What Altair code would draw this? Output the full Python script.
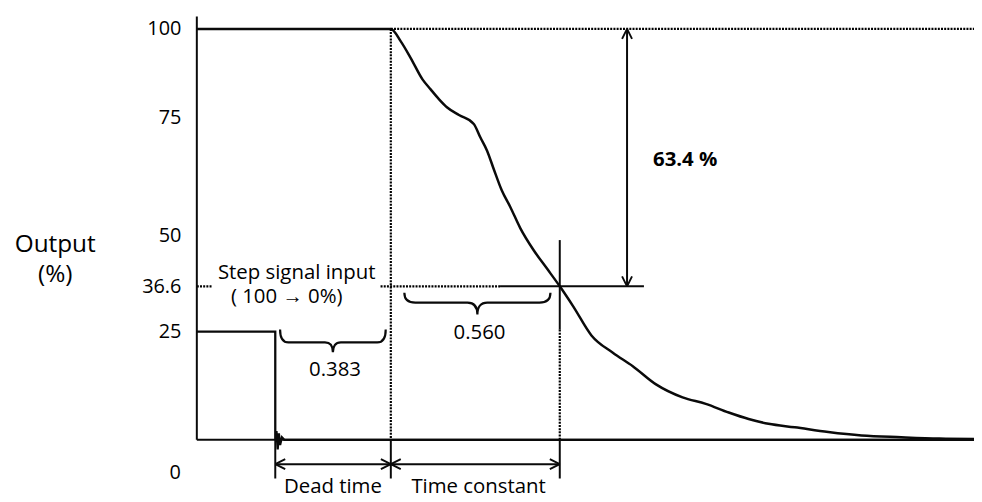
import altair as alt
import pandas as pd

# ---------------- data ----------------
T_MIN, T_MAX = -0.26, 2.316          # time axis extent (s), step at t = 0
DEAD_TIME = 0.383
TIME_CONSTANT = 0.560
TC_END = DEAD_TIME + TIME_CONSTANT   # 0.943
LEVEL_START = 100
LEVEL_TC = 36.6
STEP_LEVEL = 25

# output response (%), vs time (s)
out_t = [-0.26, 0.383, 0.416, 0.449, 0.488, 0.515, 0.543, 0.570, 0.609, 0.658,
         0.680, 0.702, 0.724, 0.751, 0.779, 0.812, 0.856, 0.900, 0.943, 0.988,
         1.048, 1.119, 1.185, 1.262, 1.350, 1.427, 1.503, 1.569, 1.635, 1.722,
         1.833, 1.943, 2.075, 2.201, 2.316]
out_v = [100, 100, 96.5, 91.8, 85.8, 83.0, 80.2, 77.9, 75.8, 73.7,
         70.8, 68.0, 64.1, 59.5, 56.0, 51.5, 46.1, 41.3, 36.6, 31.4,
         24.1, 20.1, 17.0, 12.8, 9.8, 8.3, 6.3, 4.8, 3.7, 2.9,
         1.8, 1.0, 0.6, 0.3, 0.2]

# step signal input trace (100 -> 0 %), drawn at the "25" level
in_t = [-0.26, 0.0, 0.0, 0.004, 0.008, 0.012, 0.016, 0.022, 0.03, 2.316]
in_v = [25, 25, 0, 2.0, -2.2, 1.5, -1.2, 0.6, 0, 0]

tick_values = [100, 75, 50, 36.6, 25]
zero_label = ["0"]

# ---------------- scales ----------------
# the drawing's vertical axis is not evenly spaced: piecewise linear scale
Y_DOMAIN = [-13.5, 0, 25, 36.6, 50, 75, 100, 105]
Y_RANGE = [492, 433, 324, 278.5, 227, 109, 19.5, 0]
XS = alt.Scale(domain=[T_MIN, T_MAX], nice=False, zero=False)
YS = alt.Scale(domain=Y_DOMAIN, range=Y_RANGE, nice=False, zero=False)

FONT = "Open Sans"
INK = "#0a0a0a"

Y_AXIS = alt.Axis(
    values=tick_values, labelExpr="datum.value + ''",
    domain=False, ticks=False, grid=False,
    labelPadding=16, labelFont=FONT, labelFontSize=20, labelColor="#000",
    title=["Output", "(%)"], titleAngle=0, titleX=-143, titleY=243,
    titleAlign="center", titleBaseline="alphabetic", titleFont=FONT,
    titleFontSize=24.5, titleFontWeight="normal", titleColor="#000",
    titleLineHeight=31,
)


def X(field="t"):
    return alt.X(f"{field}:Q", scale=XS, axis=None)


def Y(field="v"):
    return alt.Y(f"{field}:Q", scale=YS, axis=Y_AXIS)


out_df = pd.DataFrame({"t": out_t, "v": out_v, "i": range(len(out_t))})
in_df = pd.DataFrame({"t": in_t, "v": in_v, "i": range(len(in_t))})

output_line = alt.Chart(out_df).mark_line(
    color=INK, strokeWidth=2.5, interpolate="monotone"
).encode(x=X(), y=Y(), order=alt.Order("i:Q"))

input_line = alt.Chart(in_df).mark_line(
    color=INK, strokeWidth=2.3
).encode(x=X(), y=Y(), order=alt.Order("i:Q"))

# solid construction lines
solid_df = pd.DataFrame([
    dict(t=T_MIN, v=0, t2=T_MIN, v2=103.2),                  # vertical axis
    dict(t=T_MIN, v=0, t2=T_MAX, v2=0),                      # time axis
    dict(t=0.745, v=LEVEL_TC, t2=1.222, v2=LEVEL_TC),        # 36.6 % level
    dict(t=TC_END, v=25.5, t2=TC_END, v2=48.7),              # time-constant marker
    dict(t=0, v=0, t2=0, v2=-8.9),
    dict(t=DEAD_TIME, v=0, t2=DEAD_TIME, v2=-8.9),
    dict(t=TC_END, v=0, t2=TC_END, v2=-8.9),
    dict(t=0, v=-5.6, t2=TC_END, v2=-5.6),                   # dimension arrows
    dict(t=1.166, v=LEVEL_START, t2=1.166, v2=LEVEL_TC),     # 63.4 % arrow
])
dotted_df = pd.DataFrame([
    dict(t=DEAD_TIME, v=LEVEL_START, t2=T_MAX, v2=LEVEL_START),
    dict(t=DEAD_TIME, v=LEVEL_START, t2=DEAD_TIME, v2=0),
    dict(t=T_MIN, v=LEVEL_TC, t2=-0.211, v2=LEVEL_TC),
    dict(t=0.349, v=LEVEL_TC, t2=0.745, v2=LEVEL_TC),
    dict(t=TC_END, v=25.5, t2=TC_END, v2=0),
])

solid_rules = alt.Chart(solid_df).mark_rule(color=INK, strokeWidth=2).encode(
    x=X(), x2="t2:Q", y=Y(), y2="v2:Q")
dotted_rules = alt.Chart(dotted_df).mark_rule(
    color="#000000", strokeWidth=2.2, strokeDash=[2, 1.2]
).encode(x=X(), x2="t2:Q", y=Y(), y2="v2:Q")

# arrow heads
heads_df = pd.DataFrame([
    dict(t=0, v=-5.6, dir="left"),
    dict(t=DEAD_TIME, v=-5.6, dir="right"),
    dict(t=DEAD_TIME, v=-5.6, dir="left"),
    dict(t=TC_END, v=-5.6, dir="right"),
    dict(t=1.166, v=LEVEL_START, dir="up"),
    dict(t=1.166, v=LEVEL_TC, dir="down"),
])
head_paths = {
    "left": "M0,0L1,-0.5M0,0L1,0.5",
    "right": "M0,0L-1,-0.5M0,0L-1,0.5",
    "up": "M0,0L-0.5,1M0,0L0.5,1",
    "down": "M0,0L-0.5,-1M0,0L0.5,-1",
}
heads = alt.Chart(heads_df).mark_point(
    filled=False, color=INK, strokeWidth=1.9, size=400, opacity=1
).encode(
    x=X(), y=Y(),
    shape=alt.Shape("dir:N", scale=alt.Scale(domain=list(head_paths),
                                            range=list(head_paths.values())),
                    legend=None),
)

# curly braces
brace1 = alt.Chart(pd.DataFrame([dict(t=0.191, v=22.5)])).mark_point(
    filled=False, color=INK, strokeWidth=2.2, opacity=1, size=11300,
    shape="M-1,-0.245Q-1,0 -0.84,0L-0.15,0Q0,0 0,0.188Q0,0 0.15,0L0.84,0Q1,0 1,-0.245",
).encode(x=X(), y=Y())
brace2 = alt.Chart(pd.DataFrame([dict(t=0.670, v=32.4)])).mark_point(
    filled=False, color=INK, strokeWidth=2.2, opacity=1, size=21609,
    shape="M-1,-0.136Q-1,0 -0.85,0L-0.136,0Q0,0 0,0.163Q0,0 0.136,0L0.85,0Q1,0 1,-0.136",
).encode(x=X(), y=Y())

# text annotations
center_text_df = pd.DataFrame([
    dict(t=0.071, v=38.6, label="Step signal input"),
    dict(t=0.038, v=32.3, label="( 100 → 0%)"),
    dict(t=0.198, v=14.7, label=f"{DEAD_TIME:.3f}"),
    dict(t=0.677, v=23.2, label=f"{TIME_CONSTANT:.3f}"),
    dict(t=0.191, v=-12.2, label="Dead time"),
    dict(t=0.674, v=-12.2, label="Time constant"),
])
center_text = alt.Chart(center_text_df).mark_text(
    font=FONT, fontSize=20.5, color="#000", align="center", baseline="alphabetic"
).encode(x=X(), y=Y(), text="label:N")

pct_text = alt.Chart(pd.DataFrame([dict(t=1.252, v=64.8, label="63.4 %")])).mark_text(
    font=FONT, fontSize=20.5, fontWeight="bold", color="#000", align="left",
    baseline="alphabetic"
).encode(x=X(), y=Y(), text="label:N")

zero_text = alt.Chart(pd.DataFrame({"t": [T_MIN], "v": [0], "label": zero_label})).mark_text(
    font=FONT, fontSize=20, color="#000", align="right", baseline="middle",
    dx=-16, dy=33
).encode(x=X(), y=Y(), text="label:N")

chart = alt.layer(
    output_line, dotted_rules, solid_rules, input_line, heads, brace1, brace2,
    center_text, pct_text, zero_text,
).properties(
    width=782, height=492,
    padding={"left": 190, "top": 0, "right": 0, "bottom": 0},
    autosize=alt.AutoSizeParams(type="none"),
).configure_view(strokeWidth=0)

chart.save("out.html", embed_options={"renderer": "svg", "actions": False})
